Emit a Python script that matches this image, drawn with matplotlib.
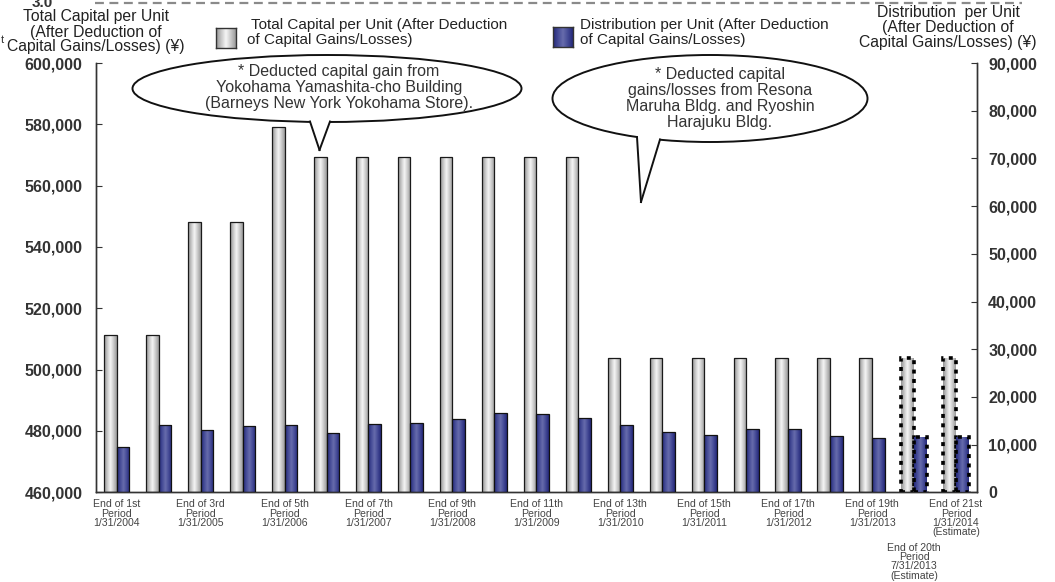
import numpy as np
import matplotlib
matplotlib.use("Agg")
import matplotlib.pyplot as plt
from matplotlib.colors import LinearSegmentedColormap
from matplotlib.patches import Ellipse, Polygon
from matplotlib.lines import Line2D

plt.rcParams['font.family'] = ['Liberation Sans', 'DejaVu Sans']

# ---- data ----
periods = ["1st", "2nd", "3rd", "4th", "5th", "6th", "7th", "8th", "9th", "10th", "11th",
           "12th", "13th", "14th", "15th", "16th", "17th", "18th", "19th", "20th", "21st"]
capital = [511400, 511400, 548300, 548300, 579000, 569300, 569300, 569300, 569300, 569300,
           569300, 569300, 503700, 503700, 503700, 503700, 503700, 503700, 503700, 503700, 503700]
distribution = [9560, 14110, 13000, 13840, 14110, 12450, 14250, 14460, 15370, 16560,
                16350, 15580, 14170, 12700, 12010, 13200, 13200, 11740, 11320, 11530, 11530]
estimate = [False] * 19 + [True, True]
tick_labels = {0: "End of 1st\nPeriod\n1/31/2004", 2: "End of 3rd\nPeriod\n1/31/2005",
               4: "End of 5th\nPeriod\n1/31/2006", 6: "End of 7th\nPeriod\n1/31/2007",
               8: "End of 9th\nPeriod\n1/31/2008", 10: "End of 11th\nPeriod\n1/31/2009",
               12: "End of 13th\nPeriod\n1/31/2010", 14: "End of 15th\nPeriod\n1/31/2011",
               16: "End of 17th\nPeriod\n1/31/2012", 18: "End of 19th\nPeriod\n1/31/2013",
               20: "End of 21st\nPeriod\n1/31/2014\n(Estimate)"}
low_label = {19: "End of 20th\nPeriod\n7/31/2013\n(Estimate)"}
left_ticks = list(range(460000, 600001, 20000))
right_ticks = list(range(0, 90001, 10000))
note1 = "* Deducted capital gain from\nYokohama Yamashita-cho Building\n(Barneys New York Yokohama Store)."
note2 = "* Deducted capital\ngains/losses from Resona\nMaruha Bldg. and Ryoshin\nHarajuku Bldg."

W, H = 1055, 582
fig = plt.figure(figsize=(W / 100, H / 100), dpi=100)
def fx(px): return px / W
def fy(py): return 1 - py / H

ax = fig.add_axes([fx(95.7), fy(492.3), fx(977) - fx(95.7), fy(63) - fy(492.3)])
ax2 = ax.twinx()

gray_cmap = LinearSegmentedColormap.from_list("g", ["#939393", "#c6c6c6", "#f6f6f6", "#c9c9c9", "#9a9a9a"])
blue_cmap = LinearSegmentedColormap.from_list("b", ["#24287a", "#454b96", "#676cac", "#454b96", "#24287a"])
grad = np.linspace(0, 1, 64).reshape(1, -1)

def shade(axis, bars, cmap):
    for b in bars:
        x0, y0 = b.get_x(), b.get_y()
        im = axis.imshow(grad, cmap=cmap, aspect='auto', interpolation='bilinear',
                         extent=[x0, x0 + b.get_width(), y0, y0 + b.get_height()], zorder=2)
        im.set_clip_path(b)

x = np.arange(len(periods))
bw = 0.302
floor = left_ticks[0]
gbars = ax.bar(x - bw / 2, np.array(capital) - floor, bw, bottom=floor, facecolor='none',
               edgecolor='#1a1a1a', linewidth=0.9, zorder=3)
bbars = ax2.bar(x + bw / 2, distribution, bw, facecolor='none', edgecolor='#111111',
                linewidth=0.9, zorder=3)
shade(ax, gbars, gray_cmap)
shade(ax2, bbars, blue_cmap)
for i, est in enumerate(estimate):
    if est:
        for b in (gbars[i], bbars[i]):
            b.set_edgecolor('black')
            b.set_linewidth(2.6)
            b.set_linestyle((0, (1.1, 1.5)))

ax.set_xlim(-0.5, len(periods) - 0.5)
ax.set_ylim(460000, 600000)
ax2.set_ylim(0, 90000)
ax.set_yticks(left_ticks, [f"{v:,}" for v in left_ticks])
ax2.set_yticks(right_ticks, [f"{v:,}" for v in right_ticks])
for a in (ax, ax2):
    a.spines['top'].set_visible(False)
    for s in ('left', 'right', 'bottom'):
        a.spines[s].set_color('#333333')
        a.spines[s].set_linewidth(1.0)
    a.tick_params(axis='y', direction='in', length=4, color='#333333', labelsize=11.5,
                  labelcolor='#333333')
for t in ax.get_yticklabels() + ax2.get_yticklabels():
    t.set_fontweight('bold')
ax.tick_params(axis='y', pad=9.5)
ax2.tick_params(axis='y', pad=8)

# boundary ticks on x axis, labels as text
ax.set_xticks(np.arange(-0.5, len(periods)), [])
ax.tick_params(axis='x', direction='in', length=4, color='#777777', width=1)
ax2.set_xticks([])
trans = ax.get_xaxis_transform()
for i, lab in tick_labels.items():
    ax.text(i, -0.016, lab, transform=trans, ha='center', va='top', fontsize=7.6,
            color='#444444', linespacing=0.93)
for i, lab in low_label.items():
    ax.text(i, -0.117, lab, transform=trans, ha='center', va='top', fontsize=7.6,
            color='#444444', linespacing=0.93)

# axis titles
fig.text(fx(96), fy(32), "Total Capital per Unit\n(After Deduction of\nCapital Gains/Losses) (¥)",
         ha='center', va='center', fontsize=11.3, color='#222222', linespacing=1.0)
fig.text(fx(948), fy(27.5), "Distribution  per Unit\n(After Deduction of\nCapital Gains/Losses) (¥)",
         ha='center', va='center', fontsize=11.3, color='#222222', linespacing=0.96)

# legend swatches + texts
def swatch(px, py, cmap):
    sa = fig.add_axes([fx(px), fy(py + 20), fx(20), 20 / H])
    sa.imshow(grad, cmap=cmap, aspect='auto', extent=[0, 1, 0, 1])
    sa.set_xticks([]); sa.set_yticks([])
    for s in sa.spines.values():
        s.set_color('#333333'); s.set_linewidth(1)
swatch(216, 28, gray_cmap)
swatch(553, 27, blue_cmap)
fig.text(fx(247), fy(32.5), " Total Capital per Unit (After Deduction\nof Capital Gains/Losses)",
         ha='left', va='center', fontsize=11, color='#222222', linespacing=1.05)
fig.text(fx(580), fy(32.5), "Distribution per Unit (After Deduction\nof Capital Gains/Losses)",
         ha='left', va='center', fontsize=11, color='#222222', linespacing=1.05)

# callouts in pixel coordinates
def callout(cx, cy, w, h, base1, base2, tip, text, tx, ty):
    T = fig.transFigure
    e = Ellipse((fx(cx), fy(cy)), w / W, h / H, transform=T, facecolor='white',
                edgecolor='#111111', linewidth=1.4, zorder=10)
    fig.patches.append(e)
    inner1 = (base1[0] + 1, base1[1] - 4)
    inner2 = (base2[0] - 1, base2[1] - 4)
    poly = Polygon([(fx(inner1[0]), fy(inner1[1])), (fx(base1[0] + 0.5), fy(base1[1] + 1)),
                    (fx(tip[0]), fy(tip[1])), (fx(base2[0] - 0.5), fy(base2[1] + 1)),
                    (fx(inner2[0]), fy(inner2[1]))],
                   closed=True, transform=T, facecolor='white', edgecolor='none', zorder=11)
    fig.patches.append(poly)
    for b in (base1, base2):
        fig.lines.append(Line2D([fx(b[0]), fx(tip[0])], [fy(b[1]), fy(tip[1])], transform=T,
                                color='#111111', linewidth=1.4, zorder=12))
    fig.text(fx(tx), fy(ty), text, ha='center', va='center', fontsize=11.5, color='#333333',
             linespacing=1.08, zorder=13)

callout(327, 88.5, 389, 67, (310, 121.5), (330, 121.5), (319.5, 150), note1, 339, 87.5)
callout(710, 98.5, 315, 87, (637, 137), (660, 139.5), (641, 202), note2, 720, 98.8)

# crop remnants at the top edge
fig.lines.append(Line2D([fx(95), fx(1022)], [fy(3), fy(3)], transform=fig.transFigure,
                        color='#8a8a8a', linewidth=1.6, linestyle=(0, (4, 2.5))))
fig.text(fx(42), fy(3), "3.0", ha='center', va='center', fontsize=11, fontweight='bold',
         color='#333333')
fig.text(fx(2), fy(40), "t", ha='center', va='center', fontsize=8, color='#333333')

fig.savefig("out.png", dpi=100)
